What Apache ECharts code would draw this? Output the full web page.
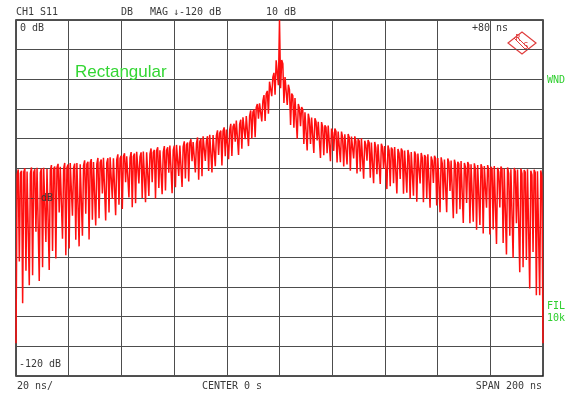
<!DOCTYPE html>
<html>
<head>
<meta charset="utf-8">
<script src="https://cdn.jsdelivr.net/npm/echarts@6/dist/echarts.min.js"></script>
<style>
  html, body { margin: 0; padding: 0; background: #fff; }
  #chart { width: 571px; height: 401px; }
</style>
</head>
<body>
<div id="chart"></div>
<script>
// Time axis: 20 ns/div, center 0 s, span 200 ns
const timeMin = -100;
const timeMax = 100;
const timeStep = 20;
// Magnitude axis: 10 dB/div, 0 dB reference at top, -120 dB at bottom
const dbMin = -120;
const dbMax = 0;
const dbStep = 10;

// Main lobe level at t = 0
const centerPeak = 0;

// ---- negative-time side, listed from the center outward ----
// lobe maxima (dB)
const leftPeaks = [
  -13.0, -17.8, -20.5, -23.9, -25.3, -27.6, -28.3, -30.2, -30.5, -32.0,
  -32.2, -33.6, -33.6, -35.0, -35.0, -36.4, -36.2, -37.3, -37.2, -38.4,
  -38.1, -39.2, -38.9, -40.0, -39.6, -40.6, -40.2, -41.3, -40.9, -41.9,
  -41.5, -42.4, -42.0, -42.9, -42.5, -43.4, -42.9, -43.8, -43.3, -44.2,
  -43.7, -44.6, -44.1, -45.0, -44.5, -45.4, -44.9, -45.8, -45.3, -46.2,
  -45.7, -46.6, -46.1, -47.0, -46.5, -47.4, -46.9, -47.8, -47.3, -48.2,
  -47.6, -48.4, -47.9, -48.7, -48.2, -49.0, -48.5, -49.4, -48.9, -49.8,
  -49.2, -50.0, -49.5, -50.3, -49.7, -50.6, -50.0, -50.8, -50.4
];
// second sample on each lobe top (dB)
const leftShoulders = [
  -13.6, -19.3, -20.8, -24.9, -27.3, -28.1, -29.5, -31.0, -32.3, -32.4,
  -32.8, -35.1, -33.9, -36.0, -37.0, -36.9, -37.4, -38.1, -39.0, -38.8,
  -38.7, -40.7, -39.2, -41.0, -41.6, -41.1, -41.4, -42.1, -42.7, -42.3,
  -42.1, -43.9, -42.3, -43.9, -44.5, -43.9, -44.1, -44.6, -45.1, -44.6,
  -44.3, -46.1, -44.4, -46.0, -46.5, -45.9, -46.1, -46.6, -47.1, -46.6,
  -46.3, -48.1, -46.4, -48.0, -48.5, -47.9, -48.1, -48.6, -49.1, -48.6,
  -48.2, -49.9, -48.2, -49.7, -50.2, -49.5, -49.7, -50.2, -50.7, -50.2,
  -49.8, -51.5, -49.8, -51.3, -51.7, -51.1, -51.2, -51.6, -52.2
];
// nulls between the lobes (dB)
const leftNulls = [
  -22.0, -25.2, -25.7, -31.6, -34.0, -34.2, -33.3, -39.5, -39.9, -42.5,
  -40.2, -43.4, -45.5, -41.0, -45.8, -46.9, -45.9, -49.0, -45.5, -49.3,
  -51.4, -50.9, -47.5, -52.7, -53.8, -51.4, -47.6, -54.4, -53.4, -56.3,
  -52.6, -56.4, -58.4, -51.5, -57.5, -58.7, -56.6, -60.2, -54.7, -59.3,
  -61.4, -60.0, -55.1, -61.8, -63.1, -59.8, -54.7, -63.7, -62.3, -65.8,
  -60.3, -64.9, -67.6, -58.5, -66.8, -69.3, -67.3, -74.0, -65.3, -72.7,
  -76.3, -74.1, -66.0, -77.0, -79.3, -73.7, -64.9, -80.4, -77.9, -84.3,
  -74.8, -83.3, -88.0, -71.4, -86.0, -89.4, -84.5, -95.5, -81.4, -109.0
];

// ---- positive-time side, listed from the center outward ----
const rightPeaks = [
  -13.5, -19.2, -21.8, -24.8, -26.3, -28.3, -29.3, -31.1, -31.6, -32.9,
  -33.1, -34.3, -34.4, -35.5, -35.6, -36.6, -36.6, -37.6, -37.6, -38.5,
  -38.4, -39.3, -39.2, -40.1, -39.9, -40.7, -40.5, -41.3, -41.1, -41.9,
  -41.7, -42.5, -42.3, -43.0, -42.8, -43.5, -43.3, -44.0, -43.8, -44.5,
  -44.3, -45.0, -44.8, -45.5, -45.3, -46.0, -45.8, -46.5, -46.3, -47.0,
  -46.7, -47.4, -47.1, -47.8, -47.5, -48.2, -47.9, -48.6, -48.3, -48.9,
  -48.6, -49.2, -48.9, -49.5, -49.2, -49.8, -49.4, -50.1, -49.7, -50.3,
  -49.9, -50.4, -50.1, -50.6, -50.3, -50.8, -50.5, -51.0, -50.7
];
const rightShoulders = [
  -14.7, -19.6, -23.5, -25.5, -26.6, -29.7, -30.2, -31.6, -33.6, -33.5,
  -34.3, -34.7, -36.1, -36.2, -35.9, -38.0, -37.5, -38.1, -39.6, -39.1,
  -39.6, -39.7, -40.9, -40.8, -40.2, -42.1, -41.4, -41.8, -43.1, -42.5,
  -42.9, -42.9, -44.0, -43.7, -43.1, -44.9, -44.2, -44.5, -45.8, -45.1,
  -45.5, -45.4, -46.5, -46.2, -45.6, -47.4, -46.7, -47.0, -48.3, -47.6,
  -47.9, -47.8, -48.8, -48.5, -47.8, -49.6, -48.8, -49.1, -50.3, -49.5,
  -49.8, -49.6, -50.6, -50.2, -49.5, -51.2, -50.3, -50.6, -51.7, -50.9,
  -51.1, -50.8, -51.8, -51.3, -50.6, -52.2, -51.4, -51.5, -52.7
];
const rightNulls = [
  -23.0, -28.0, -28.6, -35.4, -36.3, -40.0, -35.8, -41.8, -44.0, -41.8,
  -44.8, -40.6, -46.5, -45.6, -44.9, -47.6, -44.1, -48.0, -47.9, -49.4,
  -48.7, -50.8, -46.7, -51.7, -51.1, -53.5, -47.4, -53.2, -55.0, -52.0,
  -55.3, -50.1, -57.0, -56.0, -55.0, -58.5, -53.6, -58.6, -58.2, -60.3,
  -59.2, -61.3, -55.1, -61.4, -60.2, -63.3, -54.9, -62.5, -64.8, -60.7,
  -64.8, -57.6, -66.8, -65.3, -63.8, -68.4, -61.7, -68.5, -68.0, -70.7,
  -69.1, -72.0, -63.3, -72.3, -70.6, -75.5, -63.2, -75.2, -79.0, -72.7,
  -80.2, -68.5, -85.0, -83.3, -80.9, -90.5, -78.2, -92.8, -92.8, -109.0
];

// Walk outward: null, lobe maximum, lobe shoulder, next null, ...
function sweepOutward(nulls, peaks, shoulders) {
  const seq = [];
  for (let k = 0; k < nulls.length; k++) {
    seq.push(nulls[k]);
    if (k < peaks.length) {
      seq.push(peaks[k], shoulders[k]);
    }
  }
  return seq;
}

const trace = sweepOutward(leftNulls, leftPeaks, leftShoulders).reverse()
  .concat([centerPeak])
  .concat(sweepOutward(rightNulls, rightPeaks, rightShoulders));

// sweep points are spread evenly over the 200 ns span
const sampleStep = (timeMax - timeMin) / (trace.length - 1);
const traceData = trace.map((v, i) => [timeMin + i * sampleStep, v]);

const chart = echarts.init(document.getElementById('chart'), null, { renderer: 'canvas' });

const mono = '"DejaVu Sans Mono", monospace';
const txtColor = '#3a3a3a';
const green = '#2fcf2f';
const logoRed = '#e03c3c';

function label(x, y, text, style) {
  return {
    type: 'text', x: x, y: y, z: 50,
    style: Object.assign({
      text: text, fill: txtColor, font: '10px ' + mono,
      textVerticalAlign: 'middle'
    }, style || {})
  };
}

chart.setOption({
  animation: false,
  backgroundColor: '#ffffff',
  grid: {
    left: 16, top: 20, width: 527, height: 356,
    show: true, borderColor: '#1a1a1a', borderWidth: 1.5, backgroundColor: 'transparent'
  },
  xAxis: {
    type: 'value', min: timeMin, max: timeMax, interval: timeStep,
    axisLabel: { show: false }, axisTick: { show: false }, axisLine: { show: false },
    splitLine: { show: true, lineStyle: { color: '#4d4d4d', width: 1 } }
  },
  yAxis: {
    type: 'value', min: dbMin, max: dbMax, interval: dbStep,
    axisLabel: { show: false }, axisTick: { show: false }, axisLine: { show: false },
    splitLine: { show: true, lineStyle: { color: '#4d4d4d', width: 1 } }
  },
  series: [{
    type: 'line',
    data: traceData,
    showSymbol: false,
    symbol: 'none',
    clip: true,
    z: 5,
    lineStyle: { color: '#ff0f0f', width: 1.5 }
  }],
  graphic: [
    // header
    label(16, 12, 'CH1 S11'),
    label(121, 12, 'DB'),
    label(150, 12, 'MAG'),
    label(173, 12, '\u2193-120 dB'),
    label(266, 12, '10 dB'),
    // inside the graticule
    label(20, 28, '0 dB'),
    label(508, 28, '+80 ns', { textAlign: 'right' }),
    label(29, 198, '- dB'),
    label(19, 364, '-120 dB'),
    // footer
    label(17, 386, '20 ns/'),
    label(232, 386, 'CENTER 0 s', { textAlign: 'center' }),
    label(542, 386, 'SPAN 200 ns', { textAlign: 'right' }),
    // status column on the right
    label(547, 80, 'WND', { fill: green }),
    label(547, 306, 'FIL', { fill: green }),
    label(547, 318, '10k', { fill: green }),
    // window title
    {
      type: 'text', x: 75, y: 72, z: 50,
      style: {
        text: 'Rectangular', fill: '#33d633',
        font: '17px "Liberation Sans", Arial, sans-serif',
        textVerticalAlign: 'middle'
      }
    },
    // R&S emblem
    {
      type: 'group', x: 522, y: 43, z: 60,
      children: [
        {
          type: 'polygon',
          shape: { points: [[-14, 0], [0, -11], [14, 0], [0, 11]] },
          style: { fill: '#ffffff', stroke: logoRed, lineWidth: 1.2 }
        },
        {
          type: 'line', shape: { x1: -6, y1: -7, x2: 7, y2: 6 },
          style: { stroke: logoRed, lineWidth: 1 }
        },
        {
          type: 'line', shape: { x1: -8, y1: -5, x2: 5, y2: 8 },
          style: { stroke: logoRed, lineWidth: 1 }
        },
        {
          type: 'text', x: -4, y: -4,
          style: { text: 'R', fill: logoRed, font: '8px ' + mono, textAlign: 'center', textVerticalAlign: 'middle' }
        },
        {
          type: 'text', x: 4, y: 4,
          style: { text: 'S', fill: logoRed, font: '8px ' + mono, textAlign: 'center', textVerticalAlign: 'middle' }
        }
      ]
    }
  ]
});
</script>
</body>
</html>
